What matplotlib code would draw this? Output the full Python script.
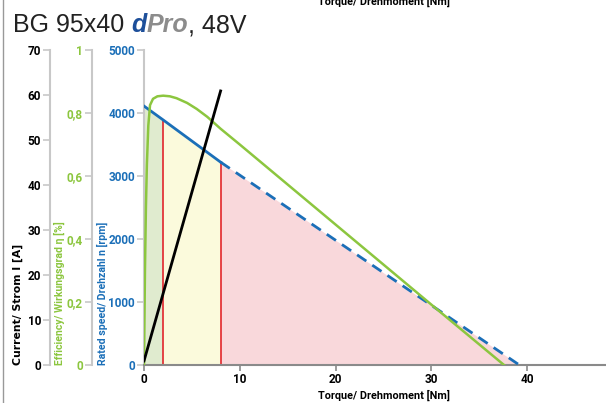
import matplotlib
matplotlib.use("Agg")
import matplotlib.pyplot as plt

# data
torque_ticks = [0, 10, 20, 30, 40]
speed_t = [0, 2, 8, 39.2]
speed_n = [4110, 3890, 3220, 0]
eff_t = [0, 0.1, 0.2, 0.3, 0.45, 0.63, 0.94, 1.4, 2.0, 2.7, 3.4, 4.5, 5.5, 6.6, 8, 10, 20, 30, 37.6]
eff_v = [0, 0.3, 0.5, 0.635, 0.76, 0.825, 0.845, 0.853, 0.855, 0.853, 0.847, 0.832, 0.813,
         0.788, 0.750, 0.70, 0.446, 0.192, 0]
current_t = [0, 8]
current_i = [0.9, 60.9]
zone_colors = ["#e0ebcf", "#fbfadc", "#f9d8db"]

lab_font = ["Liberation Sans Narrow", "Roboto"]
tick_font = ["Roboto"]
blue = "#1b6fb8"
green = "#8cc63f"
grey = "#c8c8c8"

fig = plt.figure(figsize=(6.06, 4.03), dpi=100)
ax = fig.add_axes([144/606, 38/403, 462/606, 315/403])
ax.set_xlim(0, 462/9.575)
ax.set_ylim(0, 5000)

# zones under the speed line
for k in range(3):
    ax.fill_between(speed_t[k:k+2], speed_n[k:k+2], 0, color=zone_colors[k], lw=0, zorder=1)
ax.vlines(speed_t[1:3], 0, speed_n[1:3], color="#e2262c", lw=1.2, zorder=2)

ax.plot(speed_t[:3], speed_n[:3], color=blue, lw=2, zorder=4)
ax.plot(speed_t[2:], speed_n[2:], color=blue, lw=2, dashes=(4, 2.6), zorder=4)

ax2 = ax.twinx()
ax2.set_ylim(0, 1)
ax2.plot(eff_t, eff_v, color=green, lw=1.8, zorder=3)

ax3 = ax.twinx()
ax3.set_ylim(0, 70)
ax3.plot(current_t, current_i, color="black", lw=2, zorder=5)

for a in (ax, ax2, ax3):
    for s in ("top", "right"):
        a.spines[s].set_visible(False)
    a.patch.set_visible(False)
for a in (ax2, ax3):
    a.spines["bottom"].set_visible(False)
    a.yaxis.set_ticks_position("left")
    a.yaxis.set_label_position("left")
    a.spines["left"].set_visible(True)
ax2.spines["left"].set_position(("axes", -52/462))
ax3.spines["left"].set_position(("axes", -94/462))

ax.set_yticks([0, 1000, 2000, 3000, 4000, 5000])
ax2.set_yticks([0, 0.2, 0.4, 0.6, 0.8, 1])
ax2.set_yticklabels(["0", "0,2", "0,4", "0,6", "0,8", "1"])
ax3.set_yticks([0, 10, 20, 30, 40, 50, 60, 70])
ax.set_xticks(torque_ticks)

for a, c in ((ax, blue), (ax2, green), (ax3, "black")):
    a.spines["left"].set_color(grey)
    a.spines["left"].set_linewidth(1.5)
    a.tick_params(axis="y", colors=grey, labelcolor=c, length=5, width=1.2, pad=1.5)
    for t in a.get_yticklabels():
        t.set_fontweight("bold")
        t.set_fontsize(8.5)
        t.set_family(tick_font)

ax.spines["bottom"].set_color("#8a8a8a")
ax.spines["bottom"].set_linewidth(1.5)
ax.tick_params(axis="x", colors="#8a8a8a", labelcolor="black", length=4, width=1.2, pad=2)
for t in ax.get_xticklabels():
    t.set_fontweight("bold")
    t.set_fontsize(8.5)
    t.set_family(tick_font)

lab = dict(fontsize=7.8, fontweight="bold", family=lab_font)
ax.set_xlabel("Torque/ Drehmoment [Nm]", color="black", **lab)
ax.xaxis.set_label_coords(240/462, -30/315)
ax.xaxis.label.set_va("center")

ylabs = [(ax, "Rated speed/ Drehzahl n [rpm]", blue, 102.5, lab_font, 7.6),
         (ax2, "Efficiency/ Wirkungsgrad η [%]", green, 59, lab_font, 7.6),
         (ax3, "Current/ Strom I [A]", "black", 17.5, ["DejaVu Sans"], 7.8)]
for a, txt, c, xp, fam, fs in ylabs:
    a.set_ylabel(txt, color=c, loc="bottom", fontsize=fs, fontweight="bold", family=fam)
    a.yaxis.set_label_coords((xp - 144)/462, 0)
    a.yaxis.label.set_va("center")

# cut-off duplicate label at the top edge
fig.text(384/606, 1 - 1/403, "Torque/ Drehmoment [Nm]", ha="center", va="center", **lab)

# title
t1 = fig.text(13/606, 1 - 32/403, "BG 95x40 ", fontsize=18, family="Liberation Sans", color="#222222")
t2 = ax.annotate("d", xy=(1, 0), xycoords=t1, va="bottom", fontsize=18, fontweight="bold",
                 style="italic", family="Liberation Sans", color="#1d4f9a", annotation_clip=False)
t3 = ax.annotate("Pro", xy=(1, 0), xycoords=t2, va="bottom", fontsize=18, fontweight="bold",
                 style="italic", family="Liberation Sans", color="#8c8c8c", annotation_clip=False)
ax.annotate(", 48V", xy=(1, 0), xycoords=t3, va="bottom", fontsize=18,
            family="Liberation Sans", color="#222222", annotation_clip=False)

fig.add_artist(plt.Line2D([3/606, 3/606], [0, 1], color="#999999", lw=1, transform=fig.transFigure))

fig.savefig("out.png", dpi=100)
